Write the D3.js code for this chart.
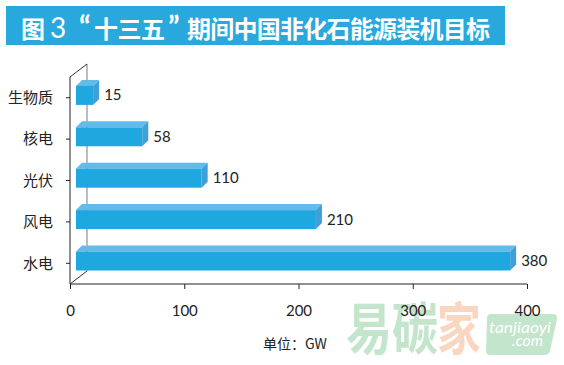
<!DOCTYPE html>
<html><head><meta charset="utf-8">
<script src="https://cdn.jsdelivr.net/npm/d3@7"></script>
<style>body{margin:0;background:#fff}svg{display:block}</style>
</head><body>
<script>
const categories = ["生物质", "核电", "光伏", "风电", "水电"];
const values = [15, 58, 110, 210, 380];
const xTicks = [0, 100, 200, 300, 400];
const titleParts = ["图", "3", "“", "十三五", "”", "期间中国非化石能源装机目标"];
const unitText = "单位：GW";

const W = 564, H = 365;
const svg = d3.select("body").append("svg").attr("width", W).attr("height", H);
const font = "Lato, 'Noto Sans CJK SC', sans-serif";
const cjk = "'Noto Sans CJK SC', sans-serif";

// watermark (behind)
const wm = svg.append("g");
wm.append("text").attr("transform", "translate(346,349) scale(1,1.22)").attr("font-family", cjk).attr("font-weight", 700)
  .attr("font-size", 46).attr("fill", "#c3e5cb").text("易碳");
wm.append("text").attr("transform", "translate(437,349) scale(0.95,1.22)").attr("font-family", cjk).attr("font-weight", 700)
  .attr("font-size", 46).attr("fill", "#f9d6c0").text("家");
wm.append("path").attr("d", "M491,314 L553,314 Q558,314 557,319 L550,351 Q549,355 544,355 L490,355 Q486,355 486,351 L487,318 Q487,314 491,314 Z")
  .attr("fill", "#c3e5cb");
wm.append("text").attr("x", 489).attr("y", 333).attr("font-family", font)
  .attr("font-style", "italic").attr("font-size", 16).attr("fill", "#fff")
  .attr("textLength", 62).attr("lengthAdjust", "spacingAndGlyphs").text("tanjiaoyi");
wm.append("text").attr("x", 512).attr("y", 346).attr("font-family", font)
  .attr("font-style", "italic").attr("font-size", 16).attr("fill", "#fff")
  .attr("textLength", 31).attr("lengthAdjust", "spacingAndGlyphs").text(".com");

// title banner
svg.append("rect").attr("x", 6).attr("y", 6).attr("width", 499).attr("height", 39).attr("fill", "#29a8dd");
const titleX = [21, 50, 79, 94, 168, 187];
const titleLen = [null, null, null, 71, null, 303];
const title = svg.append("text").attr("y", 38).attr("font-family", cjk).attr("font-weight", 700)
  .attr("font-size", 24).attr("fill", "#fff");
titleParts.forEach((t, i) => {
  const ts = title.append("tspan").attr("x", titleX[i]).text(t);
  if (i === 1) ts.attr("font-family", font).attr("font-weight", 400).attr("font-size", 28);
  if (i === 2 || i === 4) ts.attr("font-family", "Lato, sans-serif").attr("font-weight", 700).attr("font-size", 30);
  if (titleLen[i]) ts.attr("textLength", titleLen[i]).attr("lengthAdjust", "spacing");
});

// scales
const x = d3.scaleLinear().domain([0, 400]).range([70, 527]);
const y = d3.scaleBand().domain(categories).range([77, 284]);
const depthX = 17, depthY = -13;
const barDX = 6, barDY = -6, barOff = 6, barH = 19;

// back wall line
svg.append("line").attr("x1", 70 + depthX).attr("x2", 70 + depthX)
  .attr("y1", 77 + depthY).attr("y2", 284 + depthY).attr("stroke", "#a6a6a6").attr("stroke-width", 1.5);
// depth diagonals
svg.append("line").attr("x1", 70).attr("y1", 77).attr("x2", 70 + depthX).attr("y2", 77 + depthY)
  .attr("stroke", "#333").attr("stroke-width", 1);
svg.append("line").attr("x1", 70).attr("y1", 284).attr("x2", 70 + depthX).attr("y2", 284 + depthY)
  .attr("stroke", "#333").attr("stroke-width", 1);

// bars
const bars = svg.append("g");
categories.forEach((c, i) => {
  const cy = y(c) + y.bandwidth() / 2 - 2.3;
  const x0 = x(0) + barOff, x1 = x0 + (x(values[i]) - x(0));
  const top = cy - barH / 2, bot = cy + barH / 2;
  bars.append("path").attr("d", `M${x0},${top} L${x0 + barDX},${top + barDY} L${x1 + barDX},${top + barDY} L${x1},${top} Z`)
    .attr("fill", "#62bbe9");
  bars.append("path").attr("d", `M${x1},${top} L${x1 + barDX},${top + barDY} L${x1 + barDX},${bot + barDY} L${x1},${bot} Z`)
    .attr("fill", "#3f9fd8");
  bars.append("rect").attr("x", x0).attr("y", top).attr("width", x1 - x0).attr("height", barH).attr("fill", "#1fa8df");
  bars.append("text").attr("x", x1 + barDX + 5).attr("y", cy + 5).attr("font-family", font)
    .attr("font-size", 15).attr("fill", "#222").text(values[i]);
});

// left axis
const yAxis = svg.append("g").attr("transform", "translate(70,0)")
  .call(d3.axisLeft(y).tickSize(4).tickPadding(13));
yAxis.select(".domain").attr("stroke", "#222").attr("d", "M0,77V284");
yAxis.selectAll(".tick line").attr("stroke", "#222");
yAxis.selectAll("text").attr("font-family", cjk).attr("font-size", 15).attr("fill", "#222").attr("dy", "0.35em");

// bottom axis
const xAxis = svg.append("g").attr("transform", "translate(0,284)")
  .call(d3.axisBottom(x).tickValues(xTicks).tickSize(5).tickPadding(16));
xAxis.select(".domain").attr("stroke", "#222").attr("d", "M70,0H527");
xAxis.selectAll(".tick line").attr("stroke", "#222");
xAxis.selectAll("text").attr("font-family", font).attr("font-size", 15).attr("fill", "#222");

// unit
svg.append("text").attr("x", 263).attr("y", 349).attr("font-family", cjk).attr("font-size", 14)
  .attr("fill", "#222").text(unitText);
</script>
</body></html>
